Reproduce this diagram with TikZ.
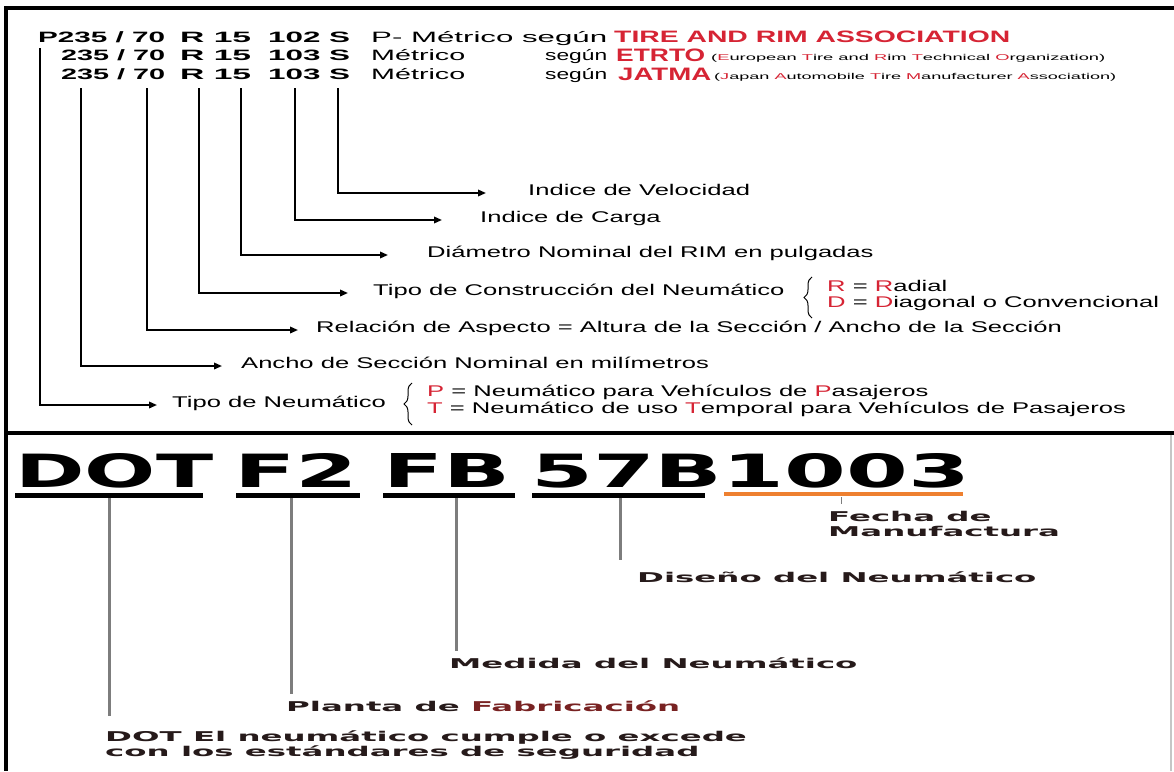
\documentclass[tikz,border=0pt]{standalone}
\usepackage{fontspec}
\usepackage{graphicx}
\usetikzlibrary{arrows.meta,decorations.pathreplacing}

% Arial-metric sans, plain and widened; Verdana-like heavy sans, plain and widened
\newfontfamily\arialn{Liberation Sans}
\newfontfamily\arialw[FakeStretch=1.65]{Liberation Sans}
\newfontfamily\heavy{DejaVu Sans}
\newfontfamily\heavyw[FakeStretch=2.4]{DejaVu Sans}

\definecolor{tirered}{RGB}{214,36,52}
\definecolor{dotorange}{RGB}{238,128,48}
\definecolor{stemgray}{RGB}{125,125,125}
\definecolor{labdark}{RGB}{38,26,26}
\definecolor{fabred}{RGB}{120,34,34}

% stretch a piece of text horizontally to a given width (in pt), keeping its height
\newcommand\hfit[2]{\resizebox{#1pt}{\height}{#2}}
\newcommand\rd[1]{\textcolor{tirered}{#1}}

\begin{document}
\begin{tikzpicture}[x=1pt,y=-1pt,
  code/.style={anchor=base west, inner sep=0pt, font=\arialn\bfseries\fontsize{15}{18}\selectfont},
  plain/.style={anchor=base west, inner sep=0pt, font=\arialn\fontsize{15}{18}\selectfont},
  acro/.style={anchor=base west, inner sep=0pt, text=tirered, font=\arialn\bfseries\fontsize{16.5}{18}\selectfont},
  tiny/.style={anchor=base west, inner sep=0pt, font=\arialn\fontsize{8.5}{10}\selectfont},
  desc/.style={anchor=mid west, inner sep=0pt, font=\arialw\fontsize{15.5}{18}\selectfont},
  keyline/.style={anchor=base west, inner sep=0pt, font=\arialw\fontsize{15.5}{18}\selectfont},
  lead/.style={line width=1.8pt, -{Triangle[length=8pt,width=6.5pt]}},
  braced/.style={decorate, decoration={brace, amplitude=8pt}, line width=1pt},
  border/.style={line width=3.5pt},
  bar/.style={line width=5pt},
  stem/.style={line width=3pt, stemgray},
  dotcode/.style={anchor=base west, inner sep=0pt, font=\heavy\bfseries\fontsize{40}{40}\selectfont},
  lab/.style={anchor=west, inner sep=0pt, text=labdark, font=\heavyw\bfseries\fontsize{13.5}{14}\selectfont},
  labtwo/.style={anchor=north west, inner sep=0pt, align=left, text=labdark, font=\heavyw\bfseries\fontsize{13.5}{15}\selectfont},
]
\useasboundingbox (0,0) rectangle (1174,771);
\fill[white] (0,0) rectangle (1174,771);

% ---------- frame ----------
\draw[border] (4,8) -- (1174,8);
\draw[border] (6,6.5) -- (6,771);
\draw[border] (6,433) -- (1174,433);
\draw[gray!45, line width=1.2pt] (1171,435) -- (1171,771);

% ---------- size designations ----------
\node[code] (p1) at (38,42)  {\hfit{127}{P235 / 70}};
\node[code] (r1) at (180,42) {\hfit{71}{R 15}};
\node[code] (l1) at (268,42) {\hfit{82}{102 S}};
\node[plain] (m1) at (371,42) {\hfit{236}{P- Métrico según}};
\node[acro] (tra) at (614,42) {\hfit{396}{TIRE AND RIM ASSOCIATION}};

\node[code] (p2) at (61,60)  {\hfit{104}{235 / 70}};
\node[code] (r2) at (180,60) {\hfit{71}{R 15}};
\node[code] (l2) at (268,60) {\hfit{82}{103 S}};
\node[plain] (m2) at (371,60) {\hfit{94}{Métrico}};
\node[plain] (s2) at (545,60) {\hfit{62}{según}};
\node[acro, font=\arialn\bfseries\fontsize{18}{20}\selectfont] (etrto) at (616,61) {\hfit{89}{ETRTO}};
\node[tiny] (etrtof) at (711,60) {\hfit{394}{(\rd{E}uropean \rd{T}ire and \rd{R}im \rd{T}echnical \rd{O}rganization)}};

\node[code] (p3) at (61,79)  {\hfit{104}{235 / 70}};
\node[code] (r3) at (180,79) {\hfit{71}{R 15}};
\node[code] (l3) at (268,79) {\hfit{82}{103 S}};
\node[plain] (m3) at (371,79) {\hfit{94}{Métrico}};
\node[plain] (s3) at (545,79) {\hfit{62}{según}};
\node[acro, font=\arialn\bfseries\fontsize{18}{20}\selectfont] (jatma) at (618,80) {\hfit{93}{JATMA}};
\node[tiny] (jatmaf) at (714,79) {\hfit{402}{(\rd{J}apan \rd{A}utomobile \rd{T}ire \rd{M}anufacturer \rd{A}ssociation)}};

% ---------- meanings ----------
\node[desc] (vel)  at (528,193) {Indice de Velocidad};
\node[desc] (car)  at (480,220) {Indice de Carga};
\node[desc] (dia)  at (427,255) {Diámetro Nominal del RIM en pulgadas};
\node[desc] (con)  at (373,293) {Tipo de Construcción del Neumático};
\node[desc] (asp)  at (316,330) {Relación de Aspecto = Altura de la Sección / Ancho de la Sección};
\node[desc] (anc)  at (241,366) {Ancho de Sección Nominal en milímetros};
\node[desc] (tip)  at (172,405) {Tipo de Neumático};

\node[keyline] (kR) at (827,291) {\rd{R} = \rd{R}adial};
\node[keyline] (kD) at (827,307) {\rd{D} = \rd{D}iagonal o Convencional};
\node[keyline] (kP) at (427,396) {\rd{P} = Neumático para Vehículos de \rd{P}asajeros};
\node[keyline] (kT) at (427,413) {\rd{T} = Neumático de uso \rd{T}emporal para Vehículos de Pasajeros};

\draw[braced] (812,318) -- (812,277);
\draw[braced] (412,425) -- (412,383);

% leader lines: start under each part of the code, end at an arrow tip
\coordinate (aP) at (40,48);   \coordinate (tP) at (157,405);
\coordinate (aW) at (81,88);   \coordinate (tW) at (222,366);
\coordinate (aA) at (147,88);  \coordinate (tA) at (298,330);
\coordinate (aR) at (199,88);  \coordinate (tR) at (348,293);
\coordinate (aD) at (241,88);  \coordinate (tD) at (388,255);
\coordinate (aL) at (295,88);  \coordinate (tL) at (442,220);
\coordinate (aS) at (338,88);  \coordinate (tS) at (486,193);

\draw[lead] (aP) |- (tP);
\draw[lead] (aW) |- (tW);
\draw[lead] (aA) |- (tA);
\draw[lead] (aR) |- (tR);
\draw[lead] (aD) |- (tD);
\draw[lead] (aL) |- (tL);
\draw[lead] (aS) |- (tS);

% ---------- DOT code ----------
\node[dotcode] (dDOT) at (15,487)  {\resizebox{198pt}{34pt}{DOT}};
\node[dotcode] (dF2)  at (234,487) {\resizebox{124pt}{34pt}{F2}};
\node[dotcode] (dFB)  at (383,487) {\resizebox{127pt}{34pt}{FB}};
\node[dotcode] (dNum) at (531,487) {\resizebox{439pt}{34pt}{57B1003}};

\draw[bar] (15,495) -- (203,495);
\draw[bar] (236,495) -- (360,495);
\draw[bar] (383,495) -- (515,495);
\draw[bar] (532,495) -- (705,495);
\draw[line width=4pt, dotorange] (724,494) -- (963,494);

\node[labtwo] (fecha)  at (828,511) {Fecha de\\Manufactura};
\node[lab]    (dis)    at (637,577) {Diseño del Neumático};
\node[lab]    (med)    at (449,663) {Medida del Neumático};
\node[lab]    (pla)    at (286,706) {Planta de \textcolor{fabred}{Fabricación}};
\node[labtwo] (dotlab) at (105,730) {DOT El neumático cumple o excede\\con los estándares de seguridad};

\coordinate (sDOT) at (109,498); \coordinate (eDOT) at (109,716);
\coordinate (sF2)  at (291,498); \coordinate (eF2)  at (291,694);
\coordinate (sFB)  at (456,498); \coordinate (eFB)  at (456,651);
\coordinate (sNum) at (620,498); \coordinate (eNum) at (620,560);
\coordinate (sDat) at (841,497); \coordinate (eDat) at (841,504);

\draw[stem] (sDOT) -- (eDOT);
\draw[stem] (sF2) -- (eF2);
\draw[stem] (sFB) -- (eFB);
\draw[stem] (sNum) -- (eNum);
\draw[stemgray, line width=1pt] (sDat) -- (eDat);
\end{tikzpicture}
\end{document}
